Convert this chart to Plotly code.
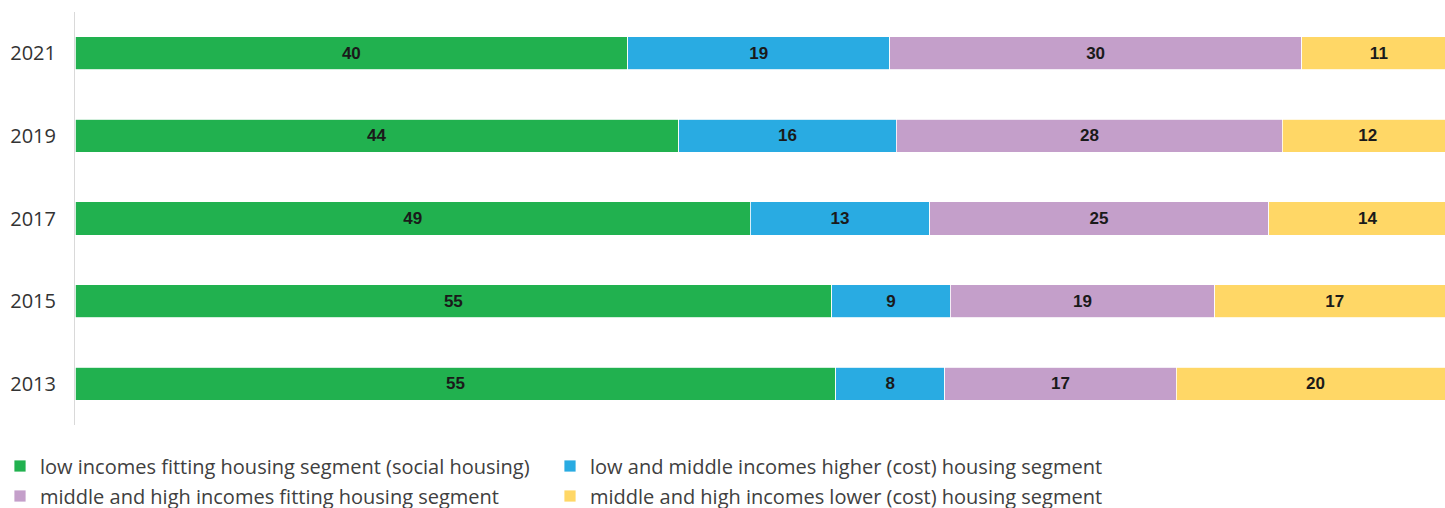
import plotly.graph_objects as go

years = ["2013", "2015", "2017", "2019", "2021"]
series_names = [
    "low incomes fitting housing segment (social housing)",
    "low and middle incomes higher (cost) housing segment",
    "middle and high incomes fitting housing segment",
    "middle and high incomes lower (cost) housing segment",
]
low_social = [55.2, 54.9, 49.0, 43.8, 40.1]
low_mid_higher = [7.9, 8.6, 13.0, 15.8, 19.0]
mid_high_fitting = [16.8, 19.2, 24.6, 28.0, 29.9]
mid_high_lower = [20.2, 17.4, 14.4, 12.4, 11.2]

colors = ["#21B14F", "#29ABE2", "#C49FCA", "#FFD766"]
values = [low_social, low_mid_higher, mid_high_fitting, mid_high_lower]
legend_ids = ["legend", "legend2", "legend3", "legend4"]

fig = go.Figure()
for name, vals, col, lg in zip(series_names, values, colors, legend_ids):
    fig.add_trace(go.Bar(
        y=years, x=vals, name=name, orientation="h",
        marker=dict(color=col, line=dict(color="white", width=0.8)),
        texttemplate="%{x:.0f}", textposition="inside",
        insidetextanchor="middle", textangle=0, constraintext="none",
        textfont=dict(family="Liberation Sans, Arial, sans-serif",
                      size=17, color="#1a1a1a", weight="bold"),
        legend=lg, hoverinfo="skip",
    ))

legend_common = dict(
    orientation="h", xanchor="left", yanchor="middle",
    xref="container", yref="container",
    font=dict(family="Open Sans, sans-serif", size=20, color="#404040"),
    bgcolor="rgba(0,0,0,0)", itemclick=False, itemdoubleclick=False,
)

col2_x = 550 / 1445
row1_y = (508 - 466) / 508
row2_y = (508 - 496) / 508

fig.update_layout(
    width=1445, height=508,
    margin=dict(l=75, r=0, t=12, b=83, autoexpand=False),
    barmode="stack", bargap=0.6,
    plot_bgcolor="white", paper_bgcolor="white",
    showlegend=True,
    legend=dict(x=0, y=row1_y, **legend_common),
    legend2=dict(x=col2_x, y=row1_y, **legend_common),
    legend3=dict(x=0, y=row2_y, **legend_common),
    legend4=dict(x=col2_x, y=row2_y, **legend_common),
    xaxis=dict(range=[0, 99.4], visible=False, fixedrange=True),
    yaxis=dict(type="category", categoryorder="array", categoryarray=years,
               showline=True, linecolor="#d9d9d9", linewidth=1,
               showgrid=False, ticks="", ticklen=0,
               tickfont=dict(family="Open Sans, sans-serif", size=20, color="#333333"),
               ticklabelstandoff=14, fixedrange=True),
)

fig.write_html(
    "out.html",
    config={"displayModeBar": False},
    post_script="document.body.style.margin='0';document.body.style.overflow='hidden';",
)
